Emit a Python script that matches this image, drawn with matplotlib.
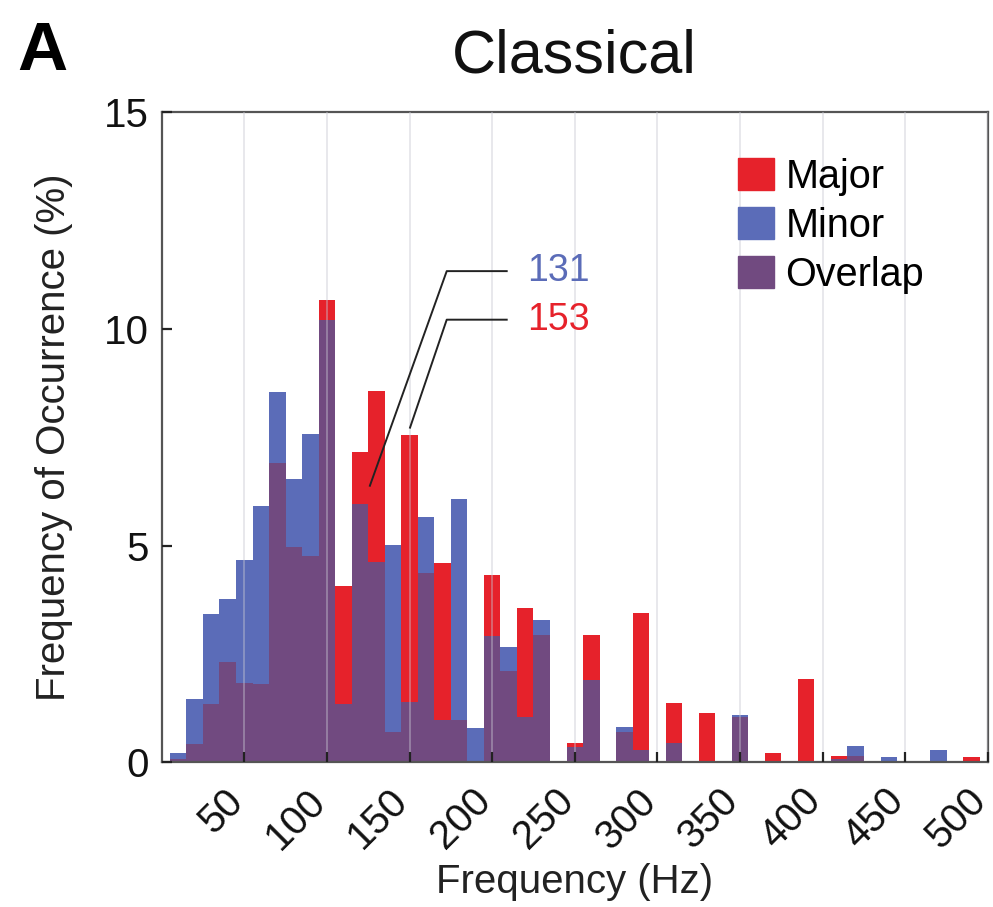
import numpy as np
import matplotlib
matplotlib.use("Agg")
import matplotlib.pyplot as plt
import matplotlib.transforms as mtransforms
from matplotlib.patches import Patch

plt.rcParams['font.family'] = ['Liberation Sans', 'DejaVu Sans']

# bin centres (Hz), 10 Hz wide
freq_bins = np.arange(10, 500, 10)

major_pct = [0.08, 0.42, 1.34, 2.31, 1.82, 1.80, 6.91, 4.96, 4.75, 10.66,
             4.06, 7.15, 8.56, 0.69, 7.54, 4.36, 4.59, 0.97, 0.0, 4.32,
             2.11, 3.56, 2.94, 0.0, 0.44, 2.94, 0.0, 0.70, 3.44, 0.0,
             1.37, 0.0, 1.13, 0.0, 1.05, 0.0, 0.22, 0.0, 1.93, 0.0,
             0.15, 0.15, 0.0, 0.0, 0.0, 0.0, 0.0, 0.0, 0.12]
minor_pct = [0.22, 1.45, 3.43, 3.76, 4.67, 5.91, 8.55, 6.54, 7.58, 10.21,
             1.34, 5.97, 4.63, 5.01, 1.40, 5.65, 0.97, 6.07, 0.80, 2.91,
             2.66, 1.05, 3.29, 0.0, 0.36, 1.89, 0.0, 0.82, 0.28, 0.0,
             0.44, 0.0, 0.0, 0.0, 1.10, 0.0, 0.0, 0.0, 0.0, 0.0,
             0.08, 0.37, 0.0, 0.12, 0.0, 0.0, 0.28, 0.0, 0.0]

mean_minor = 131
mean_major = 153

RED = '#e6222b'
BLUE = '#5b6cb8'
PURPLE = '#714a80'

major = np.array(major_pct)
minor = np.array(minor_pct)
overlap = np.minimum(major, minor)

fig = plt.figure(figsize=(9.93, 9.07), dpi=100)
ax = fig.add_axes([0.1628, 0.1595, 0.8321, 0.717])

ax.bar(freq_bins, major, width=10, color=RED, linewidth=0, zorder=1)
ax.bar(freq_bins, minor, width=10, color=BLUE, linewidth=0, zorder=1)
ax.bar(freq_bins, overlap, width=10, color=PURPLE, linewidth=0, zorder=1.5)

ax.set_xlim(0, 500)
ax.set_ylim(0, 15)
ax.set_xticks(np.arange(50, 501, 50))
ax.set_yticks([0, 5, 10, 15])
ax.set_xticklabels([str(v) for v in range(50, 501, 50)], rotation=45, ha='right')

ax.set_axisbelow(False)
ax.grid(axis='x', color='#c8c8d2', alpha=0.45, linewidth=1.3)

ax.tick_params(axis='both', direction='in', length=7, width=1.6, colors='#222222',
               labelsize=29, labelcolor='#111111')
ax.tick_params(axis='x', pad=11)
ax.tick_params(axis='y', pad=9)
for s in ax.spines.values():
    s.set_color('#555555')
    s.set_linewidth(1.6)

# nudge rotated labels a little right/down, as in the original
shift = mtransforms.ScaledTranslation(0.06, -0.04, fig.dpi_scale_trans)
for lbl in ax.get_xticklabels():
    lbl.set_transform(lbl.get_transform() + shift)

ax.set_xlabel('Frequency (Hz)', fontsize=29, color='#222222')
ax.set_ylabel('Frequency of Occurrence (%)', fontsize=29, color='#222222')
ax.xaxis.set_label_coords(0.5, -0.155)
ax.yaxis.set_label_coords(-0.107, 0.5)

ax.text(0.5, 1.06, 'Classical', transform=ax.transAxes, ha='center',
        va='baseline', fontsize=44, color='#111111')
fig.text(0.017, 0.923, 'A', fontsize=50, fontweight='bold', va='baseline')

# mean markers
ax.plot([126, 172.5, 208.8], [6.38, 11.33, 11.33], color='#222222', lw=1.4, zorder=3)
ax.plot([150.3, 172.5, 208.8], [7.72, 10.21, 10.21], color='#222222', lw=1.4, zorder=3)
ax.text(221, 11.33, str(mean_minor), color=BLUE, fontsize=27, va='center', ha='left')
ax.text(221, 10.21, str(mean_major), color=RED, fontsize=27, va='center', ha='left')

handles = [Patch(color=RED, label='Major'), Patch(color=BLUE, label='Minor'),
           Patch(color=PURPLE, label='Overlap')]
ax.legend(handles=handles, loc='upper left', bbox_to_anchor=(0.6975, 0.93),
          frameon=False, fontsize=28.5, handlelength=0.9, handleheight=0.86,
          handletextpad=0.3, labelspacing=0.28, borderpad=0, borderaxespad=0)

fig.savefig('out.png', dpi=100)
